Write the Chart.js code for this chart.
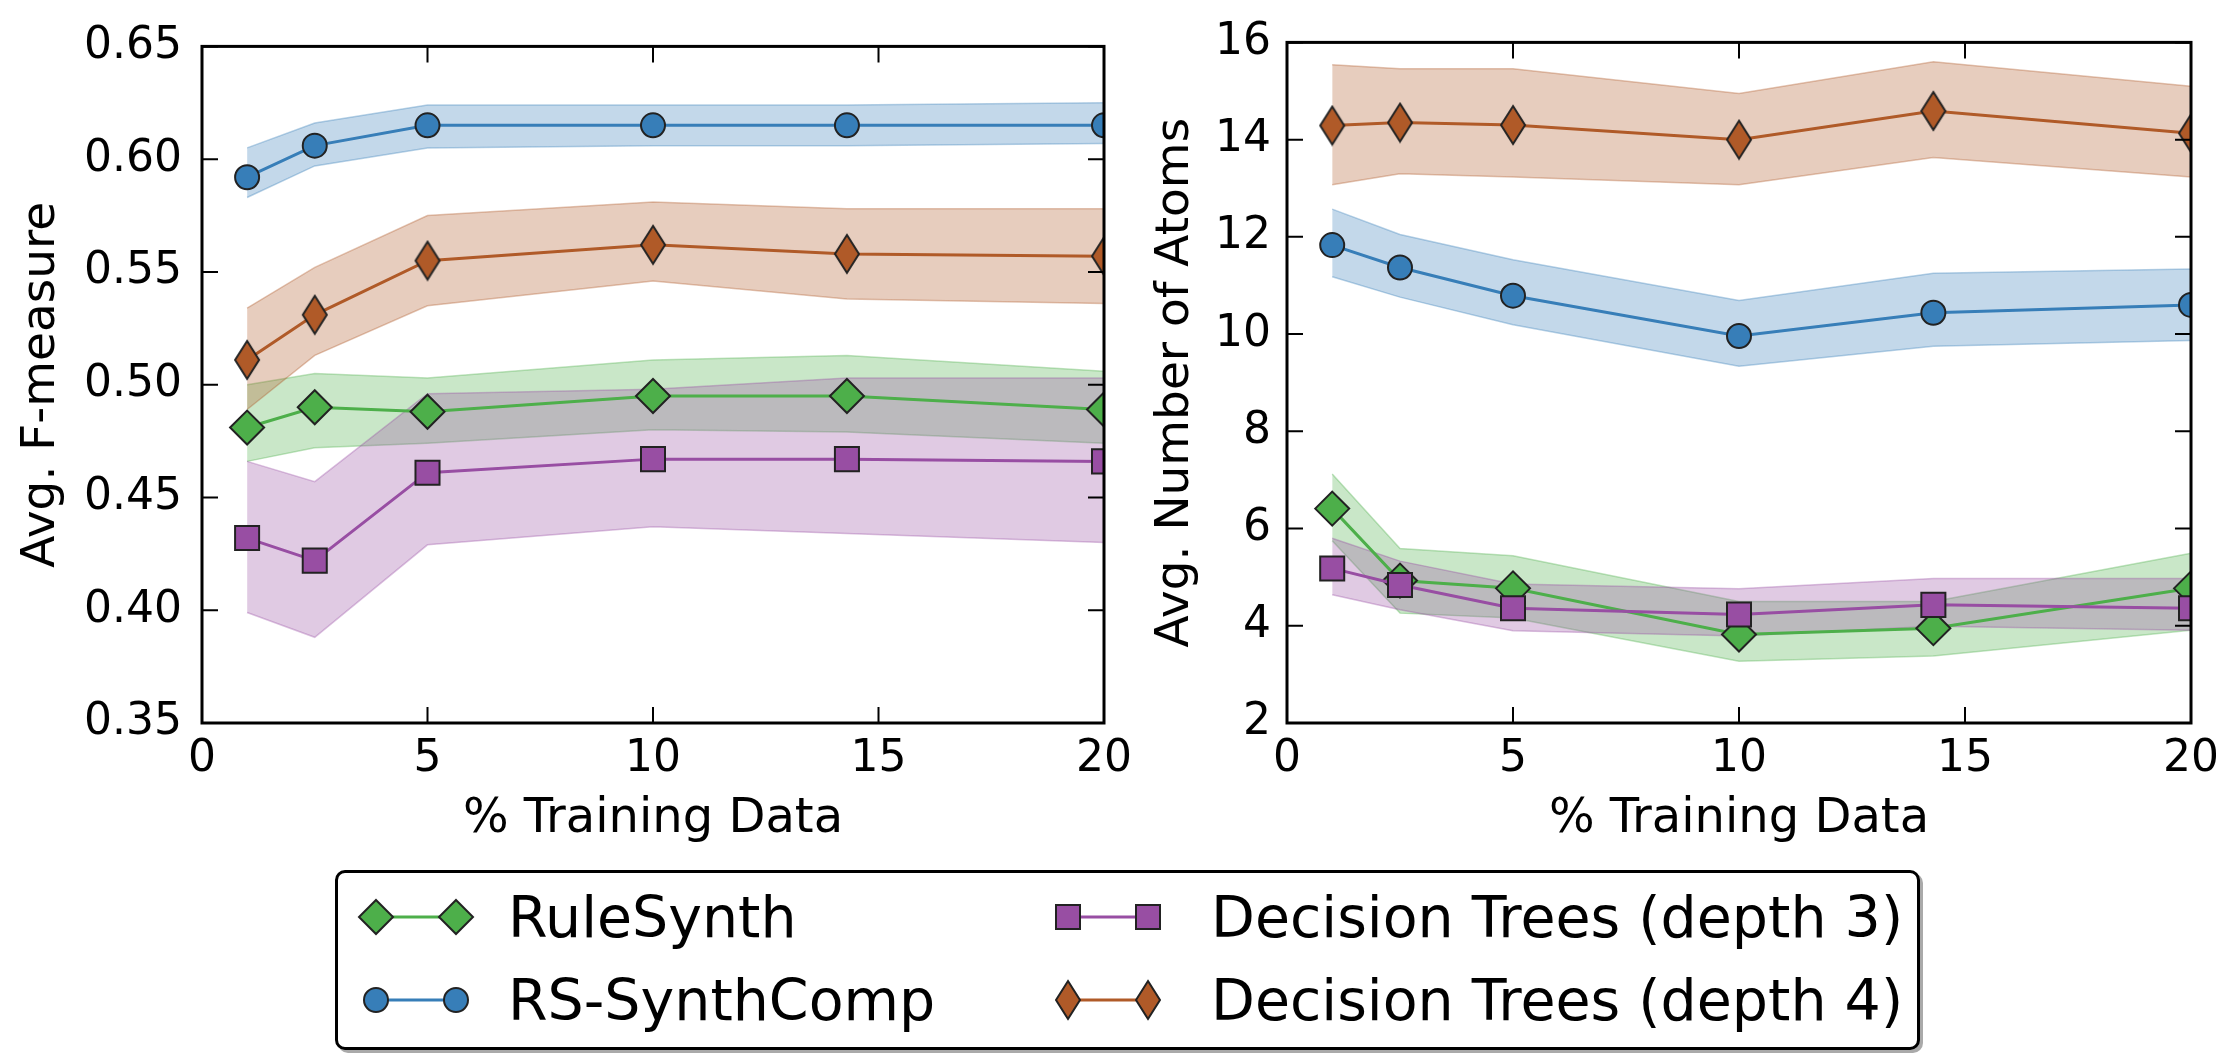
<!DOCTYPE html>
<html>
<head>
<meta charset="utf-8">
<script src="https://cdn.jsdelivr.net/npm/chart.js@4.4.1/dist/chart.umd.min.js"></script>
<style>
  html, body { margin: 0; padding: 0; background: #fff; width: 2216px; height: 1053px; overflow: hidden; font-family: 'DejaVu Sans', sans-serif; }
  #leftBox { position: absolute; left: 0; top: 0; width: 1142px; height: 860px; }
  #rightBox { position: absolute; left: 1120px; top: 0; width: 1109px; height: 860px; }
  #legend { position: absolute; left: 335px; top: 870px; width: 1579px; height: 174px; border: 3px solid #000; border-radius: 10px; box-shadow: 3px 3px 0 #aaa; background: #fff; }
  .mark { position: absolute; }
  .label { position: absolute; font-size: 57px; line-height: 64px; color: #000; white-space: nowrap; }
</style>
</head>
<body>
<div id="leftBox"><canvas id="left" width="1142" height="860"></canvas></div>
<div id="rightBox"><canvas id="right" width="1109" height="860"></canvas></div>
<div id="legend"></div>
<script>
// x positions (% training data)
const xValues = [1, 2.5, 5, 10, 14.3, 20];

// Avg. F-measure (left panel)
const fRuleSynth = [0.481, 0.490, 0.488, 0.495, 0.495, 0.489];
const fRuleSynthLo = [0.466, 0.472, 0.474, 0.480, 0.479, 0.474];
const fRuleSynthHi = [0.500, 0.505, 0.503, 0.511, 0.513, 0.506];
const fSynthComp = [0.592, 0.606, 0.615, 0.615, 0.615, 0.615];
const fSynthCompLo = [0.583, 0.597, 0.605, 0.606, 0.606, 0.607];
const fSynthCompHi = [0.605, 0.616, 0.624, 0.624, 0.624, 0.625];
const fTree3 = [0.432, 0.422, 0.461, 0.467, 0.467, 0.466];
const fTree3Lo = [0.399, 0.388, 0.429, 0.437, 0.434, 0.430];
const fTree3Hi = [0.466, 0.457, 0.496, 0.498, 0.503, 0.503];
const fTree4 = [0.511, 0.531, 0.555, 0.562, 0.558, 0.557];
const fTree4Lo = [0.489, 0.513, 0.535, 0.546, 0.538, 0.536];
const fTree4Hi = [0.534, 0.552, 0.575, 0.581, 0.578, 0.578];

// Avg. number of atoms (right panel)
const aRuleSynth = [6.41, 4.93, 4.77, 3.82, 3.95, 4.77];
const aRuleSynthLo = [5.75, 4.26, 4.16, 3.27, 3.38, 3.91];
const aRuleSynthHi = [7.12, 5.59, 5.44, 4.50, 4.50, 5.49];
const aSynthComp = [11.83, 11.37, 10.79, 9.96, 10.44, 10.60];
const aSynthCompLo = [11.18, 10.76, 10.19, 9.34, 9.75, 9.87];
const aSynthCompHi = [12.57, 12.05, 11.53, 10.69, 11.25, 11.34];
const aTree3 = [5.18, 4.84, 4.36, 4.23, 4.43, 4.36];
const aTree3Lo = [4.64, 4.33, 3.90, 3.79, 3.99, 3.91];
const aTree3Hi = [5.80, 5.33, 4.86, 4.76, 4.97, 4.97];
const aTree4 = [14.29, 14.35, 14.30, 14.00, 14.59, 14.13];
const aTree4Lo = [13.07, 13.30, 13.23, 13.07, 13.63, 13.23];
const aTree4Hi = [15.54, 15.46, 15.46, 14.95, 15.60, 15.10];

const seriesNames = ['RuleSynth', 'RS-SynthComp', 'Decision Trees (depth 3)', 'Decision Trees (depth 4)'];

const GREEN = '#4daf4a';
const BLUE = '#377eb8';
const PURPLE = '#984ea3';
const BROWN = '#b05a28';
const FONT = "'DejaVu Sans', sans-serif";
const TICK_LEN = 16;

function rgba(hex, a) {
    const n = parseInt(hex.slice(1), 16);
    return `rgba(${n >> 16}, ${(n >> 8) & 255}, ${n & 255}, ${a})`;
}

function pts(ys) {
    return ys.map((v, i) => ({ x: xValues[i], y: v }));
}

// matplotlib style thin diamond marker
function thinDiamond(color) {
    const c = document.createElement('canvas');
    c.width = 30; c.height = 42;
    const g = c.getContext('2d');
    g.beginPath();
    g.moveTo(15, 2); g.lineTo(27, 21); g.lineTo(15, 40); g.lineTo(3, 21);
    g.closePath();
    g.fillStyle = color; g.fill();
    g.lineWidth = 2; g.strokeStyle = '#222'; g.stroke();
    return c;
}

function bandSets(lo, hi, color, order) {
    return [
        { data: pts(hi), borderColor: rgba(color, 0.35), borderWidth: 1.5, pointRadius: 0, fill: false, order },
        { data: pts(lo), borderColor: rgba(color, 0.35), borderWidth: 1.5, pointRadius: 0, fill: '-1', backgroundColor: rgba(color, 0.3), order }
    ];
}

function lineSet(vals, color, style, radius, order) {
    return {
        data: pts(vals), borderColor: color, borderWidth: 3, fill: false, order,
        pointStyle: style, pointRadius: radius, pointBackgroundColor: color,
        pointBorderColor: '#222', pointBorderWidth: 2
    };
}

// frame and inward ticks on all four sides
const frameTicks = {
    id: 'frameTicks',
    afterDatasetsDraw(chart) {
        const { ctx, chartArea: a, scales: { x, y } } = chart;
        ctx.save();
        ctx.strokeStyle = '#000';
        ctx.lineWidth = 2;
        ctx.beginPath();
        x.ticks.forEach(t => {
            const px = x.getPixelForValue(t.value);
            ctx.moveTo(px, a.bottom); ctx.lineTo(px, a.bottom - TICK_LEN);
            ctx.moveTo(px, a.top); ctx.lineTo(px, a.top + TICK_LEN);
        });
        y.ticks.forEach(t => {
            const py = y.getPixelForValue(t.value);
            ctx.moveTo(a.left, py); ctx.lineTo(a.left + TICK_LEN, py);
            ctx.moveTo(a.right, py); ctx.lineTo(a.right - TICK_LEN, py);
        });
        ctx.stroke();
        ctx.lineWidth = 3;
        ctx.strokeRect(a.left, a.top, a.right - a.left, a.bottom - a.top);
        ctx.restore();
    }
};

function makeChart(id, series, yOpts) {
    const [g, gLo, gHi, b, bLo, bHi, p, pLo, pHi, r, rLo, rHi] = series;
    const datasets = [
        ...bandSets(gLo, gHi, GREEN, 8),
        ...bandSets(bLo, bHi, BLUE, 7),
        ...bandSets(pLo, pHi, PURPLE, 6),
        ...bandSets(rLo, rHi, BROWN, 5),
        lineSet(g, GREEN, 'rectRot', 17, 4),
        lineSet(b, BLUE, 'circle', 12, 3),
        lineSet(p, PURPLE, 'rect', 17, 2),
        lineSet(r, BROWN, thinDiamond(BROWN), 18, 1)
    ];
    return new Chart(document.getElementById(id), {
        type: 'line',
        data: { datasets },
        plugins: [frameTicks],
        options: {
            responsive: false,
            animation: false,
            layout: { padding: { top: 39, right: yOpts.padRight, left: 0, bottom: 0 } },
            plugins: { legend: { display: false }, tooltip: { enabled: false } },
            elements: { line: { tension: 0 } },
            scales: {
                x: {
                    type: 'linear', min: 0, max: 20,
                    ticks: { stepSize: 5, autoSkip: false, maxRotation: 0, padding: 10, color: '#000', font: { family: FONT, size: 44 } },
                    grid: { display: false, drawTicks: false },
                    border: { display: false },
                    title: { display: true, text: '% Training Data', color: '#000', font: { family: FONT, size: 48 }, padding: { top: 0, bottom: 12 } },
                    afterFit: s => { s.height = 137; }
                },
                y: {
                    type: 'linear', min: yOpts.min, max: yOpts.max,
                    ticks: { stepSize: yOpts.step, padding: yOpts.tickPad, color: '#000', font: { family: FONT, size: 44 }, callback: yOpts.fmt },
                    grid: { display: false, drawTicks: false },
                    border: { display: false },
                    title: { display: true, text: yOpts.title, color: '#000', font: { family: FONT, size: 47 }, padding: { top: yOpts.titlePad, bottom: 0 } },
                    afterFit: s => { s.width = yOpts.width; }
                }
            }
        }
    });
}

makeChart('left',
    [fRuleSynth, fRuleSynthLo, fRuleSynthHi, fSynthComp, fSynthCompLo, fSynthCompHi,
     fTree3, fTree3Lo, fTree3Hi, fTree4, fTree4Lo, fTree4Hi],
    { min: 0.35, max: 0.65, step: 0.05, fmt: v => v.toFixed(2), title: 'Avg. F-measure',
      width: 202, tickPad: 20, titlePad: 14, padRight: 31 });

makeChart('right',
    [aRuleSynth, aRuleSynthLo, aRuleSynthHi, aSynthComp, aSynthCompLo, aSynthCompHi,
     aTree3, aTree3Lo, aTree3Hi, aTree4, aTree4Lo, aTree4Hi],
    { min: 2, max: 16, step: 2, fmt: v => String(v), title: 'Avg. Number of Atoms',
      width: 167, tickPad: 16, titlePad: 28, padRight: 27 });

// legend: two columns, marker pair + label
function markerSvg(kind, color) {
    let shape;
    if (kind === 'diamond') shape = cx => `<polygon points="${cx},8 ${cx + 17},25 ${cx},42 ${cx - 17},25" fill="${color}" stroke="#222" stroke-width="2"/>`;
    else if (kind === 'circle') shape = cx => `<circle cx="${cx}" cy="25" r="12" fill="${color}" stroke="#222" stroke-width="2"/>`;
    else if (kind === 'square') shape = cx => `<rect x="${cx - 12}" y="13" width="24" height="24" fill="${color}" stroke="#222" stroke-width="2"/>`;
    else shape = cx => `<polygon points="${cx},6 ${cx + 12},25 ${cx},44 ${cx - 12},25" fill="${color}" stroke="#222" stroke-width="2"/>`;
    return `<svg width="120" height="50" viewBox="0 0 120 50"><line x1="20" y1="25" x2="100" y2="25" stroke="${color}" stroke-width="3"/>${shape(20)}${shape(100)}</svg>`;
}

const legendItems = [
    { name: seriesNames[0], kind: 'diamond', color: GREEN, mx: 18, tx: 170, cy: 44 },
    { name: seriesNames[1], kind: 'circle', color: BLUE, mx: 18, tx: 170, cy: 127 },
    { name: seriesNames[2], kind: 'square', color: PURPLE, mx: 710, tx: 873, cy: 44 },
    { name: seriesNames[3], kind: 'thin', color: BROWN, mx: 710, tx: 873, cy: 127 }
];
const legend = document.getElementById('legend');
legendItems.forEach(it => {
    const m = document.createElement('div');
    m.className = 'mark';
    m.style.left = it.mx + 'px';
    m.style.top = (it.cy - 25) + 'px';
    m.innerHTML = markerSvg(it.kind, it.color);
    legend.appendChild(m);
    const t = document.createElement('div');
    t.className = 'label';
    t.style.left = it.tx + 'px';
    t.style.top = (it.cy - 32) + 'px';
    t.textContent = it.name;
    legend.appendChild(t);
});
</script>
</body>
</html>
